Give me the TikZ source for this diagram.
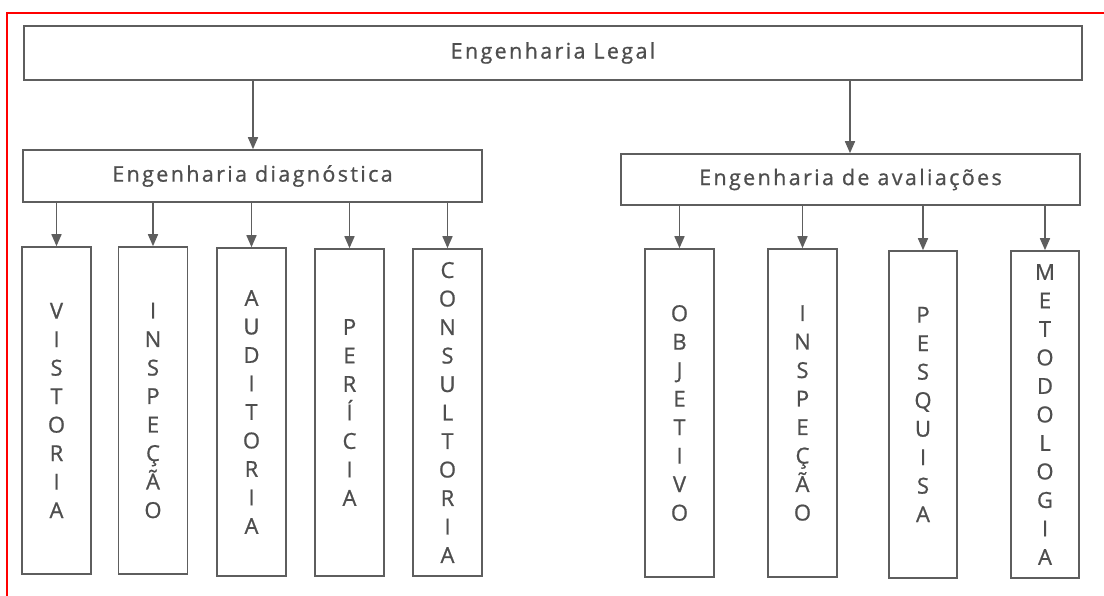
\documentclass[tikz,border=0pt]{standalone}
\usepackage{fontspec}
\setmainfont{Open Sans}[FakeBold=0.8]
\newfontfamily\widefont{Open Sans}[LetterSpace=11,FakeBold=0.8]
\newfontfamily\capfont{Open Sans}[FakeBold=0.8]
\usetikzlibrary{arrows.meta}
\definecolor{ink}{HTML}{5E5E5E}
\definecolor{txt}{HTML}{4E4E4E}
\tikzset{
  box/.style={draw=ink, line width=1.6pt, fill=white, inner sep=0pt, text=txt, anchor=center},
  hbox/.style={box, font=\widefont\fontsize{21.5}{24}\selectfont},
  vbox/.style={box, minimum width=69pt, align=center, font=\capfont\fontsize{22}{28.5}\selectfont},
  arr/.style={draw=ink, line width=1.6pt, -{Triangle[length=12pt,width=10pt]}},
}
\begin{document}
\begin{tikzpicture}[x=1pt,y=-1pt]
\useasboundingbox (0,0) rectangle (1104,596);
\fill[white] (0,0) rectangle (1104,596);
\draw[red, line width=2pt] (7,596) -- (7,13) -- (1104,13);

\node[hbox, minimum width=1058pt, minimum height=54pt] (top) at (553,53) {Engenharia Legal};
\node[hbox, minimum width=459pt, minimum height=52pt] (diag) at (252.5,176) {Engenharia diagnóstica};
\node[hbox, minimum width=459pt, minimum height=51pt] (aval) at (850.5,179.5) {Engenharia de avaliações};

\node[vbox, minimum height=327pt] (l1) at (56.5,410.5) {V\\I\\S\\T\\O\\R\\I\\A};
\node[vbox, minimum height=327pt] (l2) at (153,410.5) {I\\N\\S\\P\\E\\Ç\\Ã\\O};
\node[vbox, minimum height=328pt] (l3) at (251.5,412) {A\\U\\D\\I\\T\\O\\R\\I\\A};
\node[vbox, minimum height=327pt] (l4) at (349.5,412.5) {P\\E\\R\\Í\\C\\I\\A};
\node[vbox, minimum height=327pt] (l5) at (447.5,412.5) {C\\O\\N\\S\\U\\L\\T\\O\\R\\I\\A};

\node[vbox, minimum height=328pt] (r1) at (679.5,413) {O\\B\\J\\E\\T\\I\\V\\O};
\node[vbox, minimum height=328pt] (r2) at (802.5,413) {I\\N\\S\\P\\E\\Ç\\Ã\\O};
\node[vbox, minimum height=327pt, minimum width=68pt] (r3) at (923,414.5) {P\\E\\S\\Q\\U\\I\\S\\A};
\node[vbox, minimum height=327pt, minimum width=68pt] (r4) at (1045,414.5) {M\\E\\T\\O\\D\\O\\L\\O\\G\\I\\A};

\coordinate (ta) at (253,80);
\coordinate (tb) at (850,80);
\draw[arr] (top.south -| ta) -- (diag.north -| ta);
\draw[arr] (top.south -| tb) -- (aval.north -| tb);

\foreach \b in {l1,l2,l3,l4,l5} \draw[arr] (diag.south -| \b.north) -- (\b.north);
\foreach \b in {r1,r2,r3,r4} \draw[arr] (aval.south -| \b.north) -- (\b.north);
\end{tikzpicture}
\end{document}
